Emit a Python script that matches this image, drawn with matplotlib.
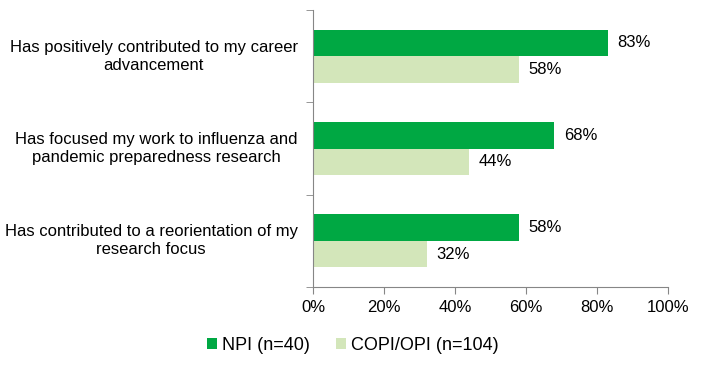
import numpy as np
import matplotlib.pyplot as plt
from matplotlib.ticker import FuncFormatter

plt.rcParams['font.family'] = ['Liberation Sans', 'DejaVu Sans']

categories = ["Has positively contributed to my career\nadvancement",
              "Has focused my work to influenza and\npandemic preparedness research",
              "Has contributed to a reorientation of my\nresearch focus"]
npi = [83, 68, 58]
copi = [58, 44, 32]
series_names = ["NPI (n=40)", "COPI/OPI (n=104)"]
xticks = [0, 20, 40, 60, 80, 100]

green = "#00a843"
light = "#d3e6ba"
axcol = "#868686"
fs = 12

fig = plt.figure(figsize=(7.06, 3.68), dpi=100)
ax = fig.add_axes([313/706, 1-287/368, 355/706, 277/368])

y = np.arange(len(categories))
h = 0.288
ax.barh(y - h/2, npi, height=h, color=green, label=series_names[0])
ax.barh(y + h/2, copi, height=h, color=light, label=series_names[1])

for i in range(len(categories)):
    ax.annotate(f"{npi[i]}%", (npi[i], y[i] - h/2), xytext=(7, 0), textcoords="offset points",
                va="center", ha="left", fontsize=fs)
    ax.annotate(f"{copi[i]}%", (copi[i], y[i] + h/2), xytext=(7, 0), textcoords="offset points",
                va="center", ha="left", fontsize=fs)

ax.set_ylim(len(categories) - 0.5, -0.5)
ax.set_xlim(0, 100)
ax.set_xticks(xticks)
ax.xaxis.set_major_formatter(FuncFormatter(lambda v, p: f"{v:.0f}%"))
ax.set_yticks(y)
ax.set_yticklabels(categories, ha="right", va="center", multialignment="center",
                   fontsize=fs, linespacing=1.25)
ax.set_yticks(np.arange(len(categories) + 1) - 0.5, minor=True)
ax.tick_params(axis="y", which="major", length=0, pad=11)
ax.tick_params(axis="y", which="minor", length=5, color=axcol, direction="out")
ax.tick_params(axis="x", length=5, color=axcol, direction="out", labelsize=fs, pad=4)

for s in ["top", "right"]:
    ax.spines[s].set_visible(False)
ax.spines["left"].set_color(axcol)
ax.spines["bottom"].set_color(axcol)

fig.legend(loc="center", bbox_to_anchor=(0.5, 1-345/368), ncol=2, frameon=False,
           fontsize=13, handlelength=0.55, handleheight=0.55, handletextpad=0.28,
           columnspacing=1.44)

fig.savefig("out.png", dpi=100)
